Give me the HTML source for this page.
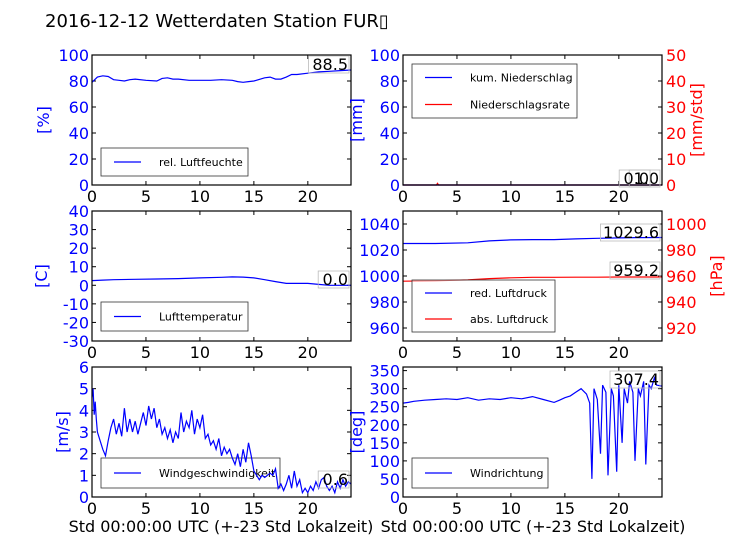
<!DOCTYPE html>
<html><head><meta charset="utf-8">
<style>
body{margin:0;background:#fff;}
svg{font-family:"DejaVu Sans","Liberation Sans",sans-serif;}
</style></head>
<body>
<svg id="c" width="736" height="552" viewBox="0 0 736 552" xmlns="http://www.w3.org/2000/svg">
<rect width="736" height="552" fill="#fff"/>
<text x="45" y="27" font-size="18">2016-12-12 Wetterdaten Station FUR▯</text>
</svg>
<script>
// ---- data ----
const humHours=[0,0.5,1,1.5,2,2.5,3,3.5,4,5,6,6.5,7,7.5,8,9,10,11,12,13,13.5,14,14.5,15,16,16.5,17,17.5,18,18.5,19,20,21,22,23,24];
const humVals=[79,83,84,83.5,81,80.5,80,81,81.5,80.5,80,82,82.5,81.5,81.5,80.5,80.5,80.5,81,80.5,79.5,79,79.5,80,82.5,83,81.5,81.5,83,85,85,86,87,87.5,88,88.5];
const precHours=[0,3.1,3.2,3.3,24];
const precSum=[0,0,0,0,0];
const precRate=[0,0,0.6,0,0];
const tempHours=[0,1,2,4,6,8,10,12,13,14,15,16,17,18,19,20,21,22,24];
const tempVals=[2.5,2.8,3,3.2,3.4,3.6,4,4.3,4.5,4.4,4,3,2,1,1,1,0.5,0,0];
const presHours=[0,3,6,8,10,12,14,16,18,20,22,24];
const presRed=[1025,1025,1025.5,1027,1027.8,1028,1028,1028.5,1029,1029.3,1029.5,1029.6];
const presAbs=[956,956.3,957,958,958.6,959,959,959.1,959.1,959.2,959.2,959.2];
const windHours=[0,0.1,0.2,0.3,0.4,0.5,0.75,1,1.25,1.5,1.75,2,2.25,2.5,2.75,3,3.25,3.5,3.75,4,4.25,4.5,4.75,5,5.25,5.5,5.75,6,6.25,6.5,6.75,7,7.25,7.5,7.75,8,8.25,8.5,8.75,9,9.25,9.5,9.75,10,10.25,10.5,10.75,11,11.25,11.5,11.75,12,12.25,12.5,12.75,13,13.25,13.5,13.75,14,14.25,14.5,14.75,15,15.25,15.5,15.75,16,16.25,16.5,16.75,17,17.25,17.5,17.75,18,18.25,18.5,18.75,19,19.25,19.5,19.75,20,20.25,20.5,20.75,21,21.25,21.5,21.75,22,22.25,22.5,22.75,23,23.25,23.5,23.75,24];
const windVals=[4.6,5.0,3.8,4.4,3.6,3.0,2.6,2.2,1.9,2.6,3.2,3.6,2.9,3.4,2.8,4.1,3.0,3.6,3.0,3.5,2.9,3.4,3.9,3.3,4.2,3.6,4.1,3.2,3.6,2.9,3.2,2.7,3.1,2.5,3.0,2.7,3.9,3.0,3.5,3.2,4.0,2.9,3.6,3.2,3.8,2.7,2.9,2.4,2.6,2.2,2.7,1.9,2.3,2.0,2.2,1.8,1.5,2.0,1.4,2.2,1.6,2.5,1.9,1.2,1.0,0.8,1.0,0.9,1.0,1.1,1.0,1.3,0.4,0.6,0.3,0.6,1.0,0.4,1.2,0.5,0.8,0.2,0.4,0.2,0.5,0.3,0.7,0.4,0.8,0.9,0.5,0.3,0.5,0.2,0.7,0.4,0.8,0.5,0.7,0.6];
const dirHours=[0,0.5,1,2,3,4,5,6,7,8,9,10,11,12,13,14,14.5,15,15.5,16,16.5,17,17.3,17.5,17.7,18,18.3,18.5,18.8,19,19.3,19.5,19.8,20,20.3,20.5,20.8,21,21.3,21.5,21.8,22,22.3,22.5,22.8,23,23.3,23.5,24];
const dirVals=[260,262,265,268,270,272,270,275,268,272,270,275,272,278,270,262,268,275,280,290,300,285,260,50,300,270,120,310,290,60,300,280,70,310,150,300,260,320,290,100,300,280,320,90,310,300,330,310,307];
// ---- layout ----
const svg=document.getElementById('c');
const NS='http://www.w3.org/2000/svg';
function el(tag,attrs,parent){const e=document.createElementNS(NS,tag);for(const k in attrs)e.setAttribute(k,attrs[k]);(parent||svg).appendChild(e);return e;}
function panel(name,x0,y0,ymin,ymax,ticks,axColor,r){
  const w=259,h=130;
  const g=el('g',{});
  
  
  const sx=v=>x0+v/24*w, sy=v=>y0+h-(v-ymin)/(ymax-ymin)*h;
  [0,5,10,15,20].forEach(t=>{
    const X=sx(t);
    el('line',{x1:X,x2:X,y1:y0+h,y2:y0+h-4,stroke:'#000'},g);
    el('line',{x1:X,x2:X,y1:y0,y2:y0+4,stroke:'#000'},g);
    const tx=el('text',{x:X,y:y0+h+17,'font-size':16,'text-anchor':'middle'},g);tx.textContent=t;
    
    
  });
  ticks.forEach(t=>{
    const Y=sy(t);
    el('line',{x1:x0,x2:x0+4,y1:Y,y2:Y,stroke:'#000'},g);
    if(!r) el('line',{x1:x0+w,x2:x0+w-4,y1:Y,y2:Y,stroke:'#000'},g);
    const tx=el('text',{x:x0-3,y:Y+6,'font-size':16,'text-anchor':'end',fill:axColor},g);tx.textContent=t;
    
    
  });
  if(r){r.ticks.forEach(t=>{
    const Y=y0+h-(t-r.min)/(r.max-r.min)*h;
    el('line',{x1:x0+w,x2:x0+w-4,y1:Y,y2:Y,stroke:'#000'},g);
    const tx=el('text',{x:x0+w+4,y:Y+6,'font-size':16,fill:'#f00'},g);tx.textContent=t;
    
    
  });}
  return {g,sx,sy,x0,y0,w,h};
}
function frame(p){el('rect',{x:p.x0,y:p.y0,width:p.w,height:p.h,fill:'none',stroke:'#000','stroke-width':1.2},p.g);}
function line(p,xs,ys,color,sy,nm){
  const f=sy||p.sy;
  const pts=xs.map((x,i)=>p.sx(x).toFixed(1)+','+f(ys[i]).toFixed(1)).join(' ');
  const e=el('polyline',{points:pts,fill:'none',stroke:color,'stroke-width':1.2},p.g);
  
  
}
function ylabel(x,y,txt,color,nm){
  const t=el('text',{x:x,y:y,'font-size':16,fill:color,'text-anchor':'middle',transform:`rotate(-90 ${x} ${y})`});t.textContent=txt;
  
  
}
function legend(x,y,w,h,items,nm){
  const g=el('g',{});
  
  
  el('rect',{x:x,y:y,width:w,height:h,fill:'#fff','fill-opacity':0.5,stroke:'#333','stroke-width':0.8},g);
  items.forEach((it,i)=>{
    const yy=y+(h/items.length)*(i+0.5);
    el('line',{x1:x+13,x2:x+40,y1:yy,y2:yy,stroke:it[1],'stroke-width':1.2},g);
    const t=el('text',{x:x+58,y:yy+4,'font-size':11},g);t.textContent=it[0];
  });
  return g;
}
function annot(xr,y,txt,nm){
  const wdt=txt.length*9.6+2;
  el('rect',{x:xr-wdt,y:y-14,width:wdt,height:17,fill:'none',stroke:'#bbb','stroke-width':0.8});
  const t=el('text',{x:xr-1,y:y,'font-size':16,'text-anchor':'end'});t.textContent=txt;
  
  
}
// Panel 1 humidity
let p=panel('humidity-panel',92,55,0,100,[0,20,40,60,80,100],'#00f');
line(p,humHours,humVals,'#00f',null,'humidity-line');frame(p);
ylabel(49,120,'[%]','#00f','humidity-y-title');
legend(101,148,147,28,[['rel. Luftfeuchte','#00f']],'humidity-legend');
annot(349,70,'88.5','humidity-value');
// Panel 2 precipitation
p=panel('precipitation-panel',403,55,0,100,[0,20,40,60,80,100],'#00f',{min:0,max:50,ticks:[0,10,20,30,40,50]});
const sy2=v=>55+130-v/50*130;
line(p,precHours,precRate,'#f00',sy2,'precip-rate-line');
line(p,precHours,precSum,'#00f',null,'precip-sum-line');frame(p);
ylabel(362,120,'[mm]','#00f','precip-y-title');
ylabel(702,120,'[mm/std]','#f00','precip-rate-y-title');
legend(412,64,165,54,[['kum. Niederschlag','#00f'],['Niederschlagsrate','#f00']],'precip-legend');
annot(660,184,'1.0','precip-rate-value');annot(650,184,'0.0','precip-sum-value');
// Panel 3 temperature
p=panel('temperature-panel',92,211,-30,40,[-30,-20,-10,0,10,20,30,40],'#00f');
line(p,tempHours,tempVals,'#00f',null,'temperature-line');frame(p);
ylabel(47,276,'[C]','#00f','temperature-y-title');
legend(101,302,147,29,[['Lufttemperatur','#00f']],'temperature-legend');
annot(349,285,'0.0','temperature-value');
// Panel 4 pressure
p=panel('pressure-panel',403,211,950,1050,[960,980,1000,1020,1040],'#00f',{min:910,max:1010,ticks:[920,940,960,980,1000]});
const sy4=v=>211+130-(v-910)/100*130;
line(p,presHours,presRed,'#00f',null,'pressure-reduced-line');
line(p,presHours,presAbs,'#f00',sy4,'pressure-absolute-line');frame(p);
ylabel(722,276,'[hPa]','#f00','pressure-y-title');
legend(412,280,143,52,[['red. Luftdruck','#00f'],['abs. Luftdruck','#f00']],'pressure-legend');
annot(660,238,'1029.6','pressure-reduced-value');annot(660,276,'959.2','pressure-absolute-value');
// Panel 5 wind speed
p=panel('wind-speed-panel',92,367,0,6,[0,1,2,3,4,5,6],'#00f');
svg.insertBefore(legend(101,458,179,30,[['Windgeschwindigkeit','#00f']],'wind-speed-legend'),p.g);
line(p,windHours,windVals,'#00f',null,'wind-speed-line');frame(p);
ylabel(68,432,'[m/s]','#00f','wind-speed-y-title');
annot(349,485,'0.6','wind-speed-value');
// Panel 6 wind direction
p=panel('wind-direction-panel',403,367,0,360,[0,50,100,150,200,250,300,350],'#00f');
line(p,dirHours,dirVals,'#00f',null,'wind-direction-line');frame(p);
ylabel(362,432,'[deg]','#00f','wind-direction-y-title');
legend(412,458,136,30,[['Windrichtung','#00f']],'wind-direction-legend');
annot(660,385,'307.4','wind-direction-value');
// x titles
[[221,'x-axis-title-left'],[533,'x-axis-title-right']].forEach(a=>{
  const t=el('text',{x:a[0],y:532,'font-size':16,'text-anchor':'middle'});t.textContent='Std 00:00:00 UTC (+-23 Std Lokalzeit)';
  
  
});
</script>
</body></html>
